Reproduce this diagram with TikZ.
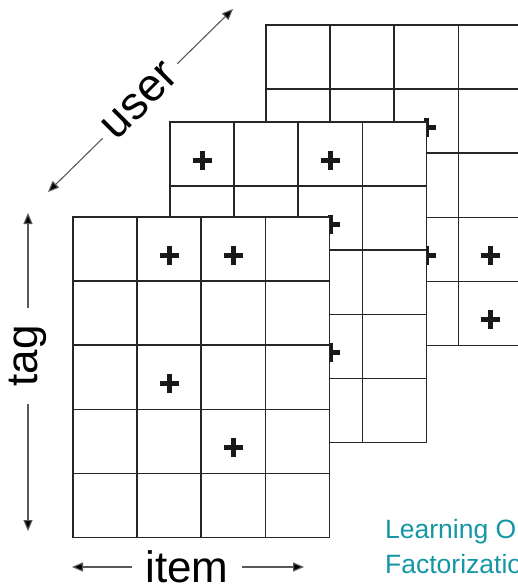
\documentclass[tikz,border=0pt]{standalone}
\usepackage{fontspec}
\setmainfont{Liberation Sans}
\usetikzlibrary{arrows.meta}
\definecolor{titleteal}{RGB}{20,150,165}
\begin{document}
\begin{tikzpicture}[x=1pt,y=-1pt,
  gridline/.style={draw=black!85,line width=1.5pt,line cap=rect},
  axis/.style={draw=black!65,line width=1.1pt,-{Triangle[length=11pt,width=9pt,fill=black]}},
  axislabel/.style={font=\fontsize{44}{44}\selectfont,inner sep=0pt},
  titletext/.style={anchor=base west,font=\fontsize{26.5}{26.5}\selectfont,text=titleteal,inner sep=0pt},
  plusmark/.pic={\draw[line width=5pt,black!90] (-9.5,0) -- (9.5,0) (0,-9.5) -- (0,9.5);},
]
\useasboundingbox (0,0) rectangle (518,587);
\clip (0,0) rectangle (518,587);

% three stacked 4x5 sheets, back to front, each with its marked cells (column/row)
\def\cell{64.1}
\foreach \ox/\oy/\marks in {266/25/{2/1,2/3,3/3,3/4},
                            170/122/{0/0,2/0,2/1,2/3},
                            73/217/{1/0,2/0,1/2,2/3}} {
  \begin{scope}[shift={(\ox,\oy)}]
    \fill[white] (0,0) rectangle (4*\cell,5*\cell);
    \foreach \i in {0,...,4}
      \draw[gridline] (\i*\cell,0) -- (\i*\cell,5*\cell);
    \foreach \j in {0,...,5}
      \draw[gridline] (0,\j*\cell) -- (4*\cell,\j*\cell);
    \foreach \c/\r in \marks
      \pic at ({(\c+0.5)*\cell},{(\r+0.5)*\cell+6}) {plusmark};
  \end{scope}
}

% axis labels with double-headed arrows broken around the text
\node[axislabel,rotate=45,inner xsep=8pt,font=\fontsize{46}{46}\selectfont] (user) at (140,101) {user};
\coordinate (userlo) at (48,192);
\coordinate (userhi) at (233,9);
\draw[axis] (user.west) -- (userlo);
\draw[axis] (user.east) -- (userhi);

\node[axislabel,rotate=90,inner xsep=17pt] (tag) at (28,356) {tag};
\coordinate (tagtop) at (28,213);
\coordinate (tagbot) at (28,531);
\draw[axis] (tag.east) -- (tagtop);
\draw[axis] (tag.west) -- (tagbot);

\node[axislabel,inner xsep=13pt] (item) at (187,567) {item};
\coordinate (itemlo) at (72,567);
\coordinate (itemhi) at (304,567);
\draw[axis] (item.west) -- (itemlo);
\draw[axis] (item.east) -- (itemhi);

% caption running off the right edge
\node[titletext] (title1) at (385,538) {Learning O};
\node[titletext] (title2) at (385,573) {Factorization};
\end{tikzpicture}
\end{document}
